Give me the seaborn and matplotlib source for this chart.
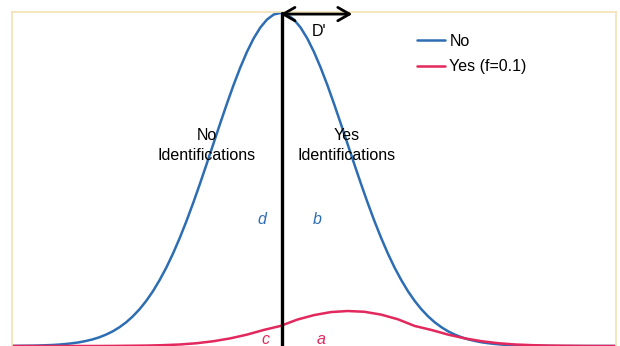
import matplotlib
matplotlib.use("Agg")
import matplotlib.pyplot as plt
import numpy as np
import pandas as pd
import seaborn as sns

sns.set_theme(style="white")
plt.rcParams["font.family"] = ["Liberation Sans", "DejaVu Sans"]
plt.rcParams["text.color"] = "black"

# valores (eixo x em unidades de desvio padrao)
x_no = np.round(np.arange(-4.0, 5.001, 0.1), 2)
y_no = [0.0001, 0.0002, 0.0003, 0.0004, 0.0006, 0.0009, 0.0012, 0.0017, 0.0024, 0.0033,
        0.0044, 0.0060, 0.0079, 0.0104, 0.0136, 0.0175, 0.0224, 0.0283, 0.0355, 0.0440,
        0.0540, 0.0656, 0.0790, 0.0940, 0.1109, 0.1295, 0.1497, 0.1714, 0.1942, 0.2179,
        0.2420, 0.2661, 0.2897, 0.3123, 0.3332, 0.3521, 0.3683, 0.3814, 0.3910, 0.3970,
        0.3989,
        0.3970, 0.3910, 0.3814, 0.3683, 0.3521, 0.3332, 0.3123, 0.2897, 0.2661, 0.2420,
        0.2179, 0.1942, 0.1714, 0.1497, 0.1295, 0.1109, 0.0940, 0.0790, 0.0656, 0.0540,
        0.0440, 0.0355, 0.0283, 0.0224, 0.0175, 0.0136, 0.0104, 0.0079, 0.0060, 0.0044,
        0.0033, 0.0024, 0.0017, 0.0012, 0.0009, 0.0006, 0.0004, 0.0003, 0.0002, 0.0001,
        0.0, 0.0, 0.0, 0.0, 0.0, 0.0, 0.0, 0.0, 0.0, 0.0]

x_yes = np.round(np.arange(-4.0, 5.001, 0.25), 2)
y_yes = [0.0, 0.0, 0.0, 0.0, 0.0, 0.0, 0.0001, 0.0003, 0.0005, 0.0010,
         0.0018, 0.0033, 0.0057, 0.0091, 0.0136, 0.0192, 0.0240, 0.0316, 0.0370, 0.0406,
         0.0419, 0.0410, 0.0376, 0.0320, 0.0240, 0.0192, 0.0136, 0.0091, 0.0057, 0.0033,
         0.0018, 0.0010, 0.0005, 0.0003, 0.0001, 0.0, 0.0]

labels = ["No", "Yes (f=0.1)"]
cores = {"No": "#2d6db3", "Yes (f=0.1)": "#e2285c"}

df = pd.concat([
    pd.DataFrame({"x": x_no, "y": y_no, "grupo": labels[0]}),
    pd.DataFrame({"x": x_yes, "y": y_yes, "grupo": labels[1]}),
])

fig = plt.figure(figsize=(6.2, 3.46), dpi=100)
ax = fig.add_axes([12 / 620, 0.0, 604 / 620, 334 / 346])

sns.lineplot(data=df, x="x", y="y", hue="grupo", palette=cores, linewidth=1.8,
             sort=False, ax=ax)

ax.set_xlim(-4, 5)
ax.set_ylim(0, 0.4)
ax.set_xticks([])
ax.set_yticks([])
ax.set_xlabel("")
ax.set_ylabel("")
for lado in ["top", "left", "right"]:
    ax.spines[lado].set_color("#f3e2b3")
    ax.spines[lado].set_linewidth(1.2)
ax.spines["bottom"].set_visible(False)

# linha de criterio e seta D'
ax.plot([0.02, 0.02], [0, 0.3989], color="black", linewidth=2.4, zorder=5)
ax.annotate("", xy=(1.07, 0.3975), xytext=(0.0, 0.3975),
            arrowprops=dict(arrowstyle="<->,head_length=0.7,head_width=0.4",
                            color="black", linewidth=2.0, shrinkA=0, shrinkB=0))
ax.text(0.57, 0.377, "D'", fontsize=11.5, ha="center", va="center")

ax.text(-1.1, 0.24, "No\nIdentifications", fontsize=11.5, ha="center", va="center",
        linespacing=1.4)
ax.text(0.99, 0.24, "Yes\nIdentifications", fontsize=11.5, ha="center", va="center",
        linespacing=1.4)

ax.text(-0.27, 0.152, "d", fontsize=11.5, style="italic", color="#2d6db3",
        ha="center", va="center")
ax.text(0.55, 0.152, "b", fontsize=11.5, style="italic", color="#2d6db3",
        ha="center", va="center")
ax.text(-0.22, 0.008, "c", fontsize=11.5, style="italic", color="#e2285c",
        ha="center", va="center")
ax.text(0.61, 0.008, "a", fontsize=11.5, style="italic", color="#e2285c",
        ha="center", va="center")

ax.legend(loc="upper left", bbox_to_anchor=(0.67, 0.935), frameon=False,
          fontsize=11.5, handlelength=1.75, handletextpad=0.3, borderpad=0,
          labelspacing=0.65, borderaxespad=0)

fig.savefig("out.png", dpi=100)
